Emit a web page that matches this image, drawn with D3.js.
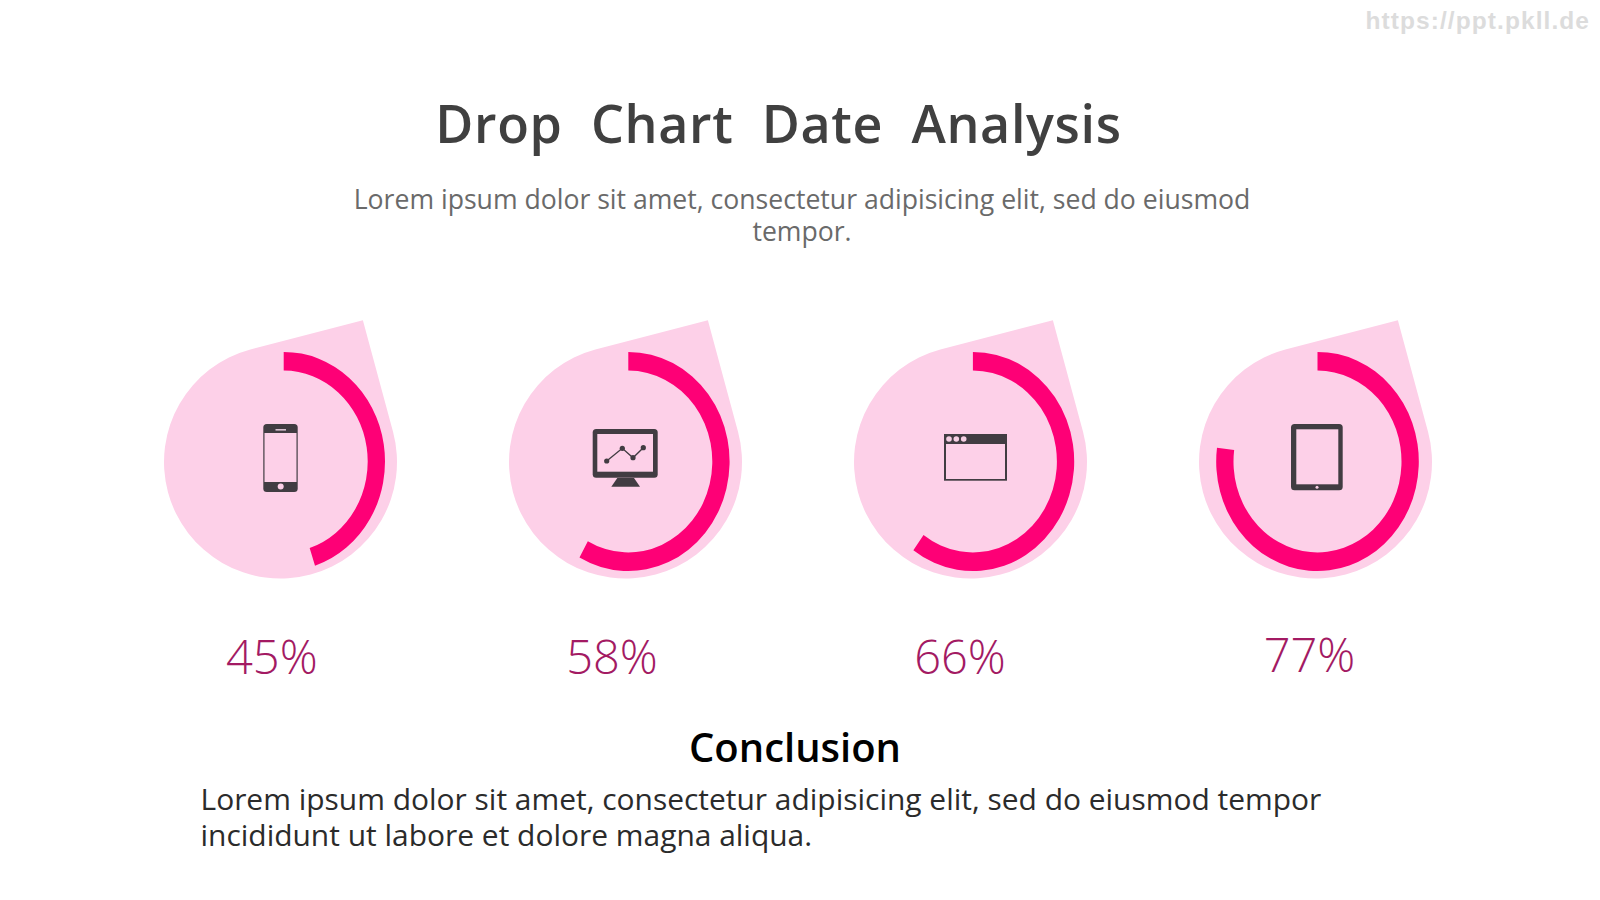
<!DOCTYPE html>
<html><head><meta charset="utf-8">
<script src="https://cdn.jsdelivr.net/npm/d3@7/dist/d3.min.js"></script>
<style>html,body{margin:0;background:#fff}svg{display:block}text{font-family:"Open Sans",sans-serif}</style>
</head><body><svg id="c" width="1600" height="900"></svg>
<script>
const titleText = "Drop  Chart  Date  Analysis";
const subtitleLines = ["Lorem ipsum dolor sit amet, consectetur adipisicing elit, sed do eiusmod","tempor."];
const conclusionTitle = "Conclusion";
const conclusionLines = ["Lorem ipsum dolor sit amet, consectetur adipisicing elit, sed do eiusmod tempor","incididunt ut labore et dolore magna aliqua."];
const categories = ["phone","monitor","window","tablet"];
const values = [45,58,66,77];
const ringValues = [45,58,60,77];
const watermark = "https://ppt.pkll.de";

const PINK="#fdd0e8", HOT="#fe0076", DARK="#413c42", LABEL="#a31a63";
const svg=d3.select("#c");
svg.append("rect").attr("width",1600).attr("height",900).attr("fill","#fff");

svg.append("text").attr("x",1590).attr("y",29).attr("text-anchor","end").attr("letter-spacing",1.07)
  .attr("font-size",24.5).attr("font-weight",700).attr("fill","#dcdcdc").style("font-family","'Liberation Sans'").text(watermark);

svg.append("text").attr("x",778.5).attr("y",143).attr("text-anchor","middle").attr("font-size",52).attr("font-weight",600)
  .attr("fill","#404040").attr("letter-spacing",0.65).style("white-space","pre").text(titleText);
svg.selectAll(".sub").data(subtitleLines).join("text").attr("class","sub").attr("x",802)
  .attr("y",(d,i)=>209+i*32.4).attr("text-anchor","middle").attr("font-size",26.6).attr("fill","#6a6a6a").text(d=>d);

const xDrop=d3.scalePoint().domain(categories).range([280.5,1315.5]);
const xRing=d3.scalePoint().domain(categories).range([283.7,1317.5]);
const xLabel=d3.scaleOrdinal().domain(categories).range([271.8,612,960,1309.5]);
const labelY={phone:674,monitor:674,window:674,tablet:672};
const angle=d3.scaleLinear().domain([0,100]).range([0,2*Math.PI]);
const R=116.5, CY=462, a=15*Math.PI/180;
const dropPath=()=>{
  const t1=[-R*Math.sin(a),-R*Math.cos(a)], t2=[R*Math.cos(a),-R*Math.sin(a)];
  const tip=[t1[0]+t2[0],t1[1]+t2[1]+1];
  return `M${t1}L${tip}L${t2}A${R} ${R} 0 1 1 ${t1}Z`;
};
const arc=d3.arc().innerRadius(84).outerRadius(101.3);

const g=svg.selectAll(".d").data(categories.map((c,i)=>({c,v:values[i],rv:ringValues[i]}))).join("g").attr("class","d");
g.append("path").attr("d",dropPath()).attr("fill",PINK).attr("transform",d=>`translate(${xDrop(d.c)},${CY})`);
g.append("path").attr("d",d=>arc({startAngle:0,endAngle:angle(d.rv)})).attr("fill",HOT)
  .attr("transform",d=>`translate(${xRing(d.c)},461.5) scale(1,1.082)`);
g.append("text").attr("x",d=>xLabel(d.c)).attr("y",d=>labelY[d.c]).attr("text-anchor","middle")
  .attr("font-size",47).attr("font-weight",300).attr("fill",LABEL).text(d=>d.v+"%");

const r=(s,x,y,w,h,f,rx)=>s.append("rect").attr("x",x).attr("y",y).attr("width",w).attr("height",h).attr("fill",f).attr("rx",rx||0);
const ci=(s,x,y,rad,f)=>s.append("circle").attr("cx",x).attr("cy",y).attr("r",rad).attr("fill",f);
// phone
r(svg,263.3,424,34.4,68,DARK,3.5); r(svg,264.5,433,32,49,PINK);
r(svg,275.5,429,10.5,1.6,"#d8c0d0"); ci(svg,280.7,486.5,3,PINK);
// monitor
r(svg,592.7,429,65,48.7,DARK,3.5); r(svg,597.3,434,55.7,37.7,PINK);
svg.append("path").attr("d","M617.3 478H634L640 486.7H611.3Z").attr("fill",DARK);
const pts=[[606.7,461],[622.3,448.3],[633,457.7],[643.3,447.7]];
svg.append("path").attr("d",d3.line()(pts)).attr("fill","none").attr("stroke",DARK).attr("stroke-width",1.4);
pts.forEach(p=>ci(svg,p[0],p[1],2.6,DARK));
// window
r(svg,944,434,63,46.7,DARK); r(svg,946,444,59,35,PINK);
[949,956.3,963.7].forEach(x=>ci(svg,x,439,2.8,"#f6cfe4"));
// tablet
r(svg,1291,424,51.7,66.3,DARK,3.5); r(svg,1296.3,429.3,42,55,PINK); ci(svg,1317,487.3,1.5,"#f6cfe4");

svg.append("text").attr("x",795).attr("y",762).attr("text-anchor","middle").attr("font-size",40).attr("font-weight",600).attr("fill","#000").text(conclusionTitle);
svg.selectAll(".body").data(conclusionLines).join("text").attr("class","body").attr("x",200.5)
  .attr("y",(d,i)=>810+i*36).attr("font-size",29.95).attr("fill","#2b2b2b").text(d=>d);
</script></body></html>
